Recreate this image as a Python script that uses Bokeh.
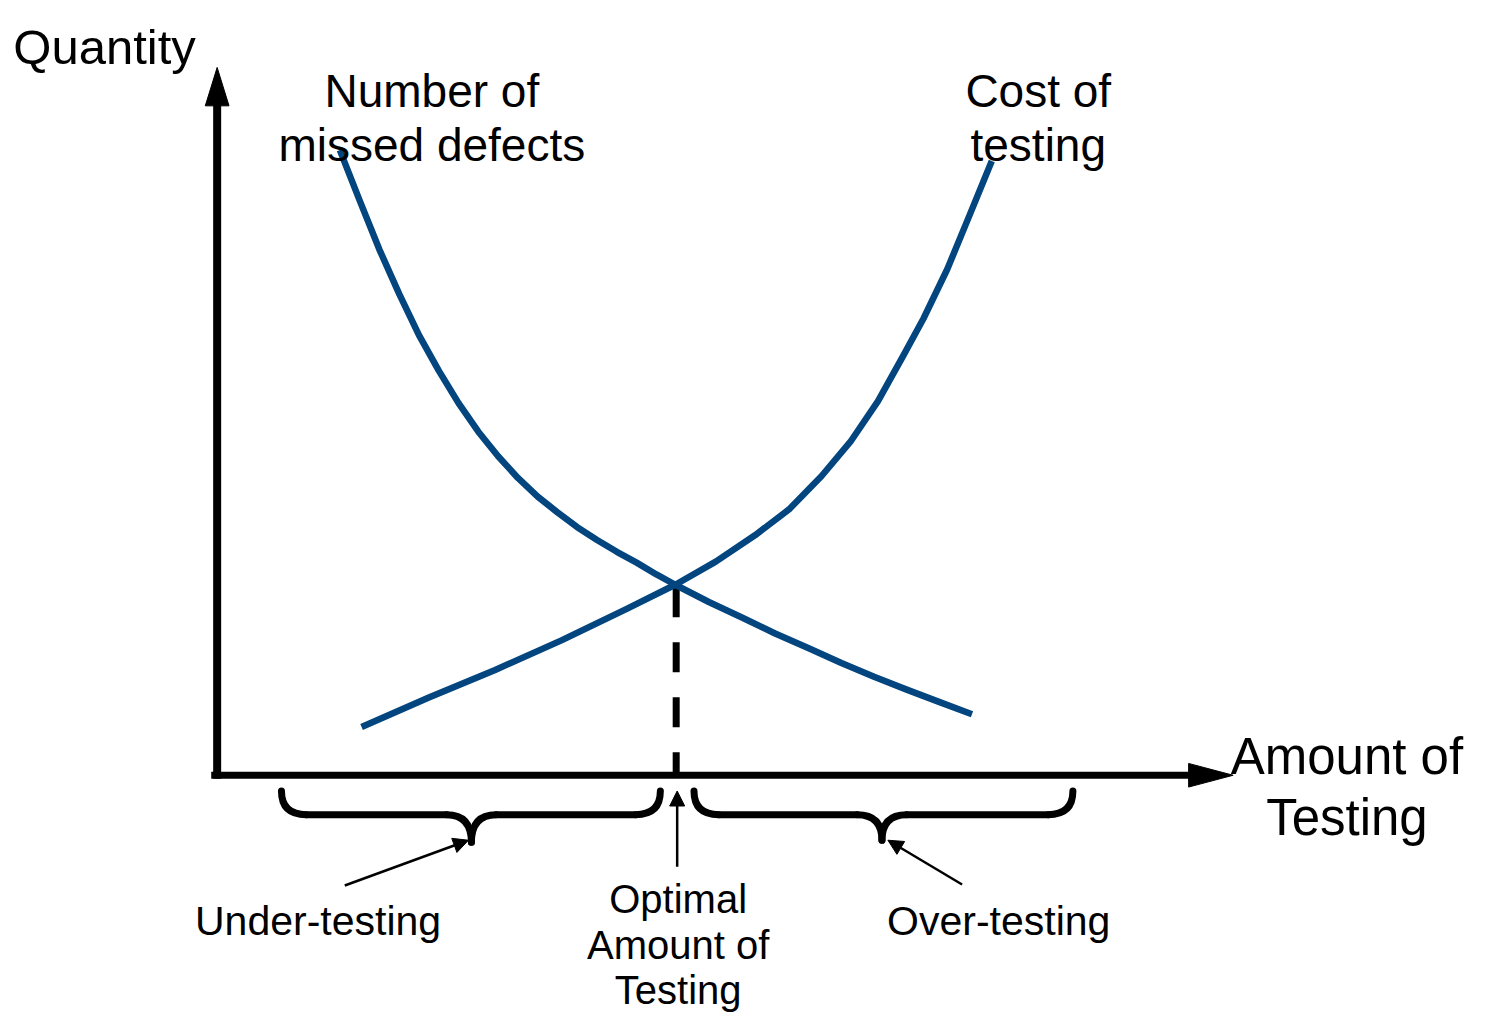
from bokeh.plotting import figure
from bokeh.models import Range1d, Arrow, NormalHead
from bokeh.embed import file_html
from bokeh.resources import INLINE
from bokeh.core.properties import value

# ---- data (conceptual units: x = amount of testing, y = quantity) ----
missed_x = [1.24, 1.44, 1.64, 1.84, 2.04, 2.24, 2.44, 2.64, 2.84, 3.04, 3.24,
            3.44, 3.64, 3.84, 4.04, 4.24, 4.44, 4.64, 4.97, 5.31, 5.64, 5.98,
            6.31, 6.64, 6.97, 7.31, 7.63]
missed_y = [6.35, 5.84, 5.34, 4.89, 4.47, 4.11, 3.78, 3.49, 3.24, 3.02, 2.83,
            2.67, 2.52, 2.39, 2.27, 2.16, 2.04, 1.93, 1.76, 1.60, 1.44, 1.29,
            1.14, 1.00, 0.87, 0.74, 0.62]
cost_x = [1.46, 2.14, 2.81, 3.48, 4.14, 4.64, 5.04, 5.44, 5.78, 6.11, 6.41,
          6.68, 6.94, 7.14, 7.38, 7.61, 7.83]
cost_y = [0.49, 0.79, 1.07, 1.37, 1.69, 1.94, 2.17, 2.44, 2.70, 3.04, 3.40,
          3.80, 4.27, 4.64, 5.14, 5.70, 6.24]
optimal_x = 4.64
optimal_y = 1.93

# brace extents along the amount-of-testing axis: (left, cusp, right)
under_brace = (0.65, 2.57, 4.48)
over_brace = (4.82, 6.72, 8.65)

FONT = value("Liberation Sans")
BLUE = "#02457F"

p = figure(width=1478, height=1012, output_backend="svg", toolbar_location=None,
           x_range=Range1d(-2.19, 12.75), y_range=Range1d(-2.41, 7.87),
           x_axis_type=None, y_axis_type=None, min_border=0,
           outline_line_color=None, background_fill_color="white",
           border_fill_color="white")
p.xgrid.visible = False
p.ygrid.visible = False

# axes with arrowheads
p.line([-0.06, 9.86], [0, 0], line_width=7, line_color="black")
p.line([0, 0], [-0.035, 6.82], line_width=8, line_color="black")
p.patch([9.82, 10.27, 9.82], [0.12, 0, -0.12], fill_color="black", line_color="black")
p.patch([-0.12, 0, 0.12], [6.80, 7.19, 6.80], fill_color="black", line_color="black")

# dashed optimum line
p.line([optimal_x, optimal_x], [optimal_y - 0.02, 0.0], line_width=7,
       line_color="black", line_dash="30 25", line_cap="butt")

# curves
p.line(missed_x, missed_y, line_width=6.5, line_color=BLUE, line_join="round")
p.line(cost_x, cost_y, line_width=6.5, line_color=BLUE, line_join="round")

# braces
def brace(L, C, R, ytop, ymid, ycusp, r=0.25):
    kw = dict(line_width=7, line_color="black", line_cap="round")
    p.quadratic(x0=[L, C - r, C, R - r], y0=[ytop, ymid, ycusp, ymid],
                x1=[L + r, C, C + r, R], y1=[ymid, ycusp, ymid, ytop],
                cx=[L, C, C, R], cy=[ymid, ymid, ymid, ymid], **kw)
    p.segment(x0=[L + r, C + r], y0=[ymid, ymid], x1=[C - r, R - r], y1=[ymid, ymid], **kw)

brace(*under_brace, -0.16, -0.40, -0.68)
brace(*over_brace, -0.16, -0.40, -0.66)

# pointer arrows
for xs, ys, xe, ye in [(1.29, -1.12, 2.54, -0.66),
                       (7.53, -1.11, 6.78, -0.66),
                       (4.65, -0.93, 4.65, -0.16)]:
    p.add_layout(Arrow(end=NormalHead(size=15, fill_color="black", line_color="black",
                                      line_width=1),
                       x_start=xs, y_start=ys, x_end=xe, y_end=ye,
                       line_width=2.5, line_color="black"))

# texts
def txt(x, y, s, size, align="center"):
    p.text(x=[x], y=[y], text=[s], text_font=FONT, text_font_size=f"{size}px",
           text_align=align, text_baseline="alphabetic", text_color="black")

txt(-2.06, 7.40, "Quantity", 49, "left")
txt(2.17, 6.95, "Number of", 46)
txt(2.17, 6.40, "missed defects", 46)
txt(8.30, 6.95, "Cost of", 46)
txt(8.30, 6.40, "testing", 46)
txt(11.42, 0.19, "Amount of", 51)
txt(11.42, -0.43, "Testing", 51)
txt(1.02, -1.48, "Under-testing", 41)
txt(7.90, -1.48, "Over-testing", 41)
txt(4.66, -1.26, "Optimal", 40)
txt(4.66, -1.72, "Amount of", 40)
txt(4.66, -2.18, "Testing", 40)

open("out.html", "w").write(file_html(p, INLINE))
